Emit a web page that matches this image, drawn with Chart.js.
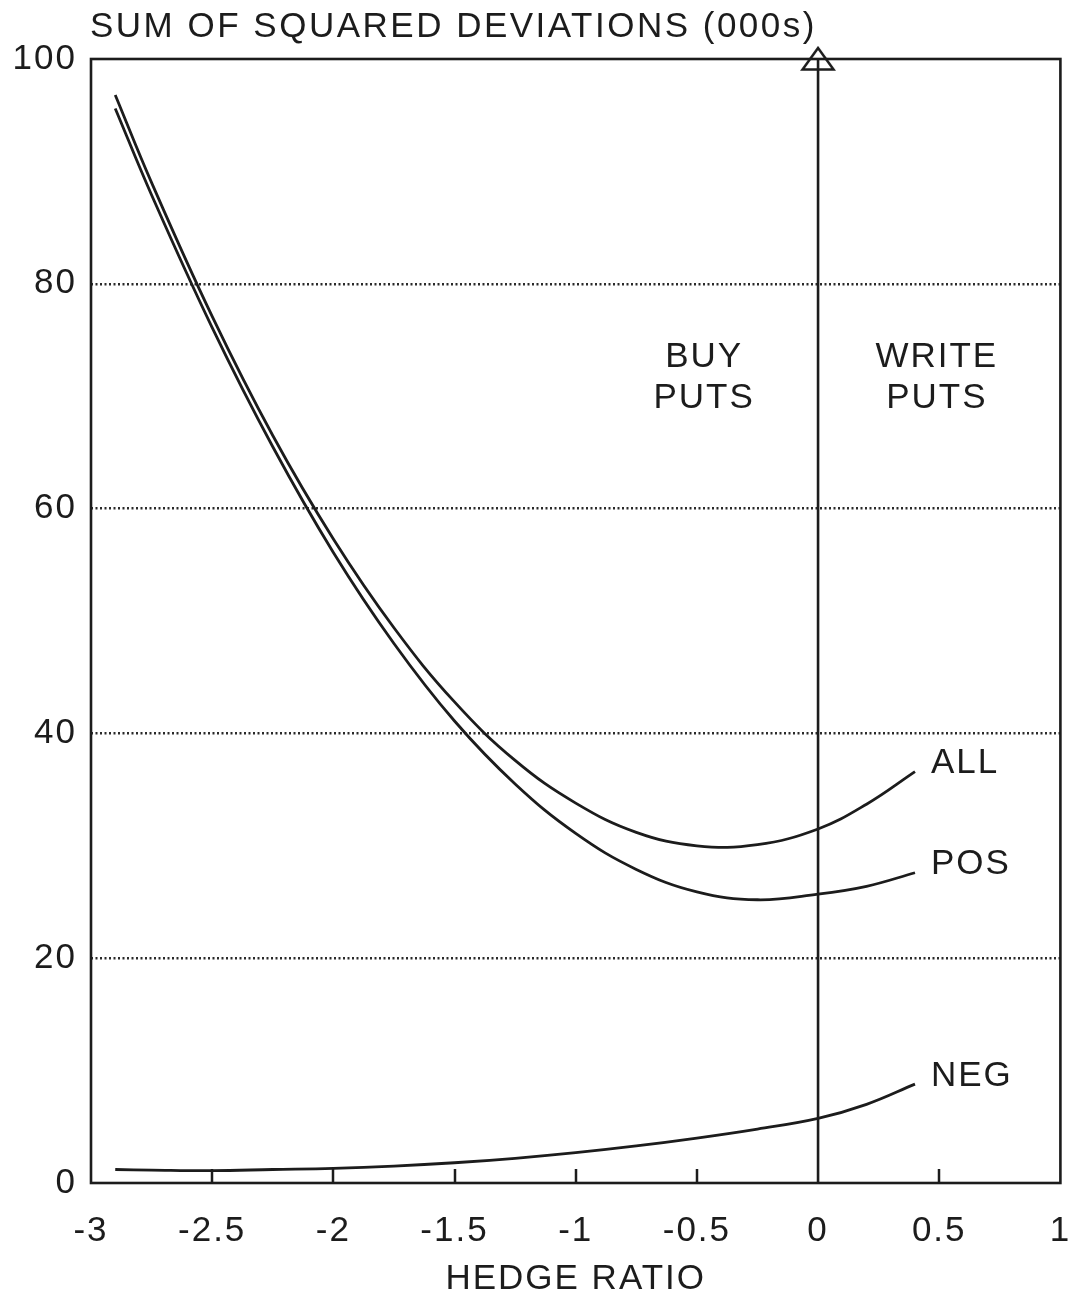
<!DOCTYPE html>
<html>
<head>
<meta charset="utf-8">
<script src="https://cdn.jsdelivr.net/npm/chart.js@4.4.0/dist/chart.umd.min.js"></script>
<style>
  html, body { margin: 0; padding: 0; background: #fff; }
  #wrap { width: 1075px; height: 1300px; }
</style>
</head>
<body>
<div id="wrap"><canvas id="ssd-chart" width="1075" height="1300"></canvas></div>
<script>
// --- DATA ---
const hedgeRatio = [-2.9, -2.75, -2.5, -2.25, -2, -1.75, -1.5, -1.25, -1, -0.75, -0.5, -0.25, 0, 0.2, 0.4];
const allSSD = [96.8, 89.0, 77.1, 66.5, 57.3, 49.4, 42.8, 37.6, 33.8, 31.2, 30.0, 30.1, 31.5, 33.7, 36.6];
const posSSD = [95.6, 87.9, 76.1, 65.5, 56.1, 48.0, 41.1, 35.5, 31.1, 27.9, 25.9, 25.2, 25.7, 26.4, 27.6];
const negSSD = [1.2, 1.15, 1.1, 1.2, 1.3, 1.5, 1.8, 2.2, 2.7, 3.3, 4.0, 4.8, 5.75, 7.0, 8.8];
const xTickValues = [-2.5, -2, -1.5, -1, -0.5, 0.5];
const seriesNames = ['ALL', 'POS', 'NEG'];
const zeroLineY = [0, 100];

const INK = '#1c1c1c';
const FONT = '"Liberation Sans", Arial, sans-serif';

// open triangle sitting on top of the zero line
function makeTriangle() {
    const c = document.createElement('canvas');
    c.width = 36; c.height = 26;
    const g = c.getContext('2d');
    g.strokeStyle = INK;
    g.lineWidth = 2.5;
    g.beginPath();
    g.moveTo(18, 2);
    g.lineTo(2.5, 23.5);
    g.lineTo(33.5, 23.5);
    g.closePath();
    g.stroke();
    return c;
}

function toPoints(ys) {
    return hedgeRatio.map((x, i) => ({ x: x, y: ys[i] }));
}

function curve(label, ys) {
    return {
        label: label,
        data: toPoints(ys),
        borderColor: INK,
        borderWidth: 2.8,
        pointRadius: 0,
        tension: 0.4,
        fill: false
    };
}

// frame, inward x ticks, titles and labels
const decorations = {
    id: 'decorations',
    beforeUpdate(chart) { chart.ctx.letterSpacing = '2px'; },
    beforeDraw(chart) { chart.ctx.letterSpacing = '2px'; },
    afterDraw(chart) {
        const { ctx, chartArea: a, scales: { x, y } } = chart;
        ctx.save();
        ctx.strokeStyle = INK;
        ctx.lineWidth = 2.6;
        ctx.strokeRect(a.left, a.top, a.right - a.left, a.bottom - a.top);

        // short ticks pointing up into the plot
        ctx.lineWidth = 2.5;
        ctx.beginPath();
        xTickValues.forEach(v => {
            const px = Math.round(x.getPixelForValue(v));
            ctx.moveTo(px, a.bottom);
            ctx.lineTo(px, a.bottom - 14);
        });
        ctx.stroke();

        ctx.fillStyle = INK;
        ctx.font = '35px ' + FONT;
        ctx.textBaseline = 'middle';

        // series labels at the end of each curve
        [allSSD, posSSD, negSSD].forEach((ys, i) => {
            const last = ys.length - 1;
            const px = x.getPixelForValue(hedgeRatio[last]);
            const py = y.getPixelForValue(ys[last]);
            ctx.textAlign = 'left';
            ctx.fillText(seriesNames[i], px + 16, py - 8);
        });

        ctx.textAlign = 'center';
        ctx.fillText('BUY', x.getPixelForValue(-0.47), y.getPixelForValue(73.5));
        ctx.fillText('PUTS', x.getPixelForValue(-0.47), y.getPixelForValue(69.8));
        ctx.fillText('WRITE', x.getPixelForValue(0.49), y.getPixelForValue(73.5));
        ctx.fillText('PUTS', x.getPixelForValue(0.49), y.getPixelForValue(69.8));

        ctx.letterSpacing = '2.5px';
        ctx.textAlign = 'left';
        ctx.fillText('SUM OF SQUARED DEVIATIONS (000s)', 90, 27);
        ctx.restore();
    }
};

new Chart(document.getElementById('ssd-chart'), {
    type: 'line',
    data: {
        datasets: [
            curve(seriesNames[0], allSSD),
            curve(seriesNames[1], posSSD),
            curve(seriesNames[2], negSSD),
            {
                label: 'zero',
                data: zeroLineY.map(v => ({ x: 0, y: v })),
                borderColor: INK,
                borderWidth: 2.6,
                pointRadius: [0, 12],
                pointStyle: makeTriangle(),
                clip: false
            }
        ]
    },
    options: {
        responsive: false,
        animation: false,
        events: [],
        layout: { padding: { top: 59, right: 13, left: 0, bottom: 0 } },
        plugins: { legend: { display: false }, tooltip: { enabled: false } },
        scales: {
            x: {
                type: 'linear',
                min: -3,
                max: 1,
                afterFit(s) { s.height = 117; s.paddingRight = 0; s.paddingLeft = 0; },
                ticks: { stepSize: 0.5, color: INK, padding: 27, maxRotation: 0,
                         callback: v => String(v),
                         font: { family: FONT, size: 35 } },
                grid: { display: false, drawTicks: false },
                border: { display: false },
                title: { display: true, text: 'HEDGE RATIO', color: INK,
                         font: { family: FONT, size: 35 }, padding: { top: 0, bottom: 0 } }
            },
            y: {
                min: 0,
                max: 100,
                afterFit(s) { s.width = 91; },
                ticks: { stepSize: 20, color: INK, padding: 14,
                         font: { family: FONT, size: 35 } },
                grid: {
                    drawTicks: false,
                    lineWidth: 2.4,
                    color: c => (c.tick && (c.tick.value === 0 || c.tick.value === 100)) ? 'rgba(0,0,0,0)' : '#2a2a2a'
                },
                border: { display: false, dash: [2, 2.5] }
            }
        }
    },
    plugins: [decorations]
});
</script>
</body>
</html>
